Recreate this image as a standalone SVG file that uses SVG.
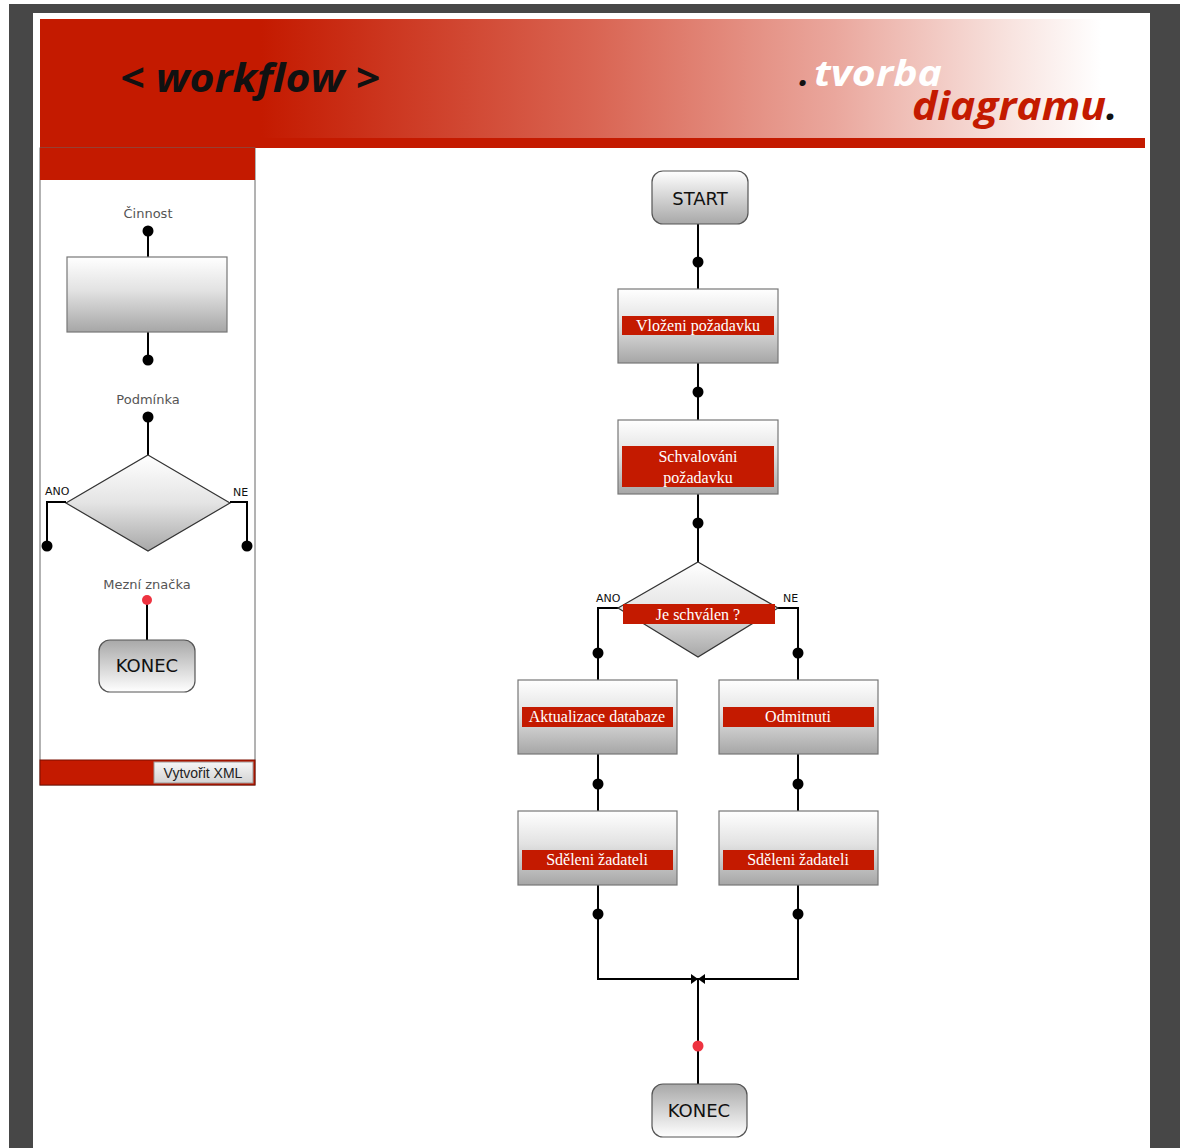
<svg xmlns="http://www.w3.org/2000/svg" width="1180" height="1148" viewBox="0 0 1180 1148">
  <defs>
    <linearGradient id="hdr" gradientUnits="userSpaceOnUse" x1="40" y1="0" x2="1145" y2="0">
      <stop offset="0" stop-color="#c41a00"/>
      <stop offset="0.2" stop-color="#c41a00"/>
      <stop offset="0.5" stop-color="#d96452"/>
      <stop offset="0.72" stop-color="#eaa79d"/>
      <stop offset="0.88" stop-color="#f8e4e0"/>
      <stop offset="0.96" stop-color="#ffffff"/>
    </linearGradient>
    <linearGradient id="box" x1="0" y1="0" x2="0" y2="1">
      <stop offset="0" stop-color="#ffffff"/>
      <stop offset="0.45" stop-color="#e2e2e2"/>
      <stop offset="1" stop-color="#a6a6a6"/>
    </linearGradient>
    <linearGradient id="term" x1="0" y1="0" x2="0" y2="1">
      <stop offset="0" stop-color="#ffffff"/>
      <stop offset="1" stop-color="#a8a8a8"/>
    </linearGradient>
    <linearGradient id="termEnd" x1="0" y1="0" x2="0" y2="1">
      <stop offset="0" stop-color="#a8a8a8"/>
      <stop offset="1" stop-color="#ffffff"/>
    </linearGradient>
    <linearGradient id="dia" x1="0" y1="0" x2="0" y2="1">
      <stop offset="0" stop-color="#ffffff"/>
      <stop offset="0.5" stop-color="#e4e4e4"/>
      <stop offset="1" stop-color="#a8a8a8"/>
    </linearGradient>
    <linearGradient id="btn" x1="0" y1="0" x2="0" y2="1">
      <stop offset="0" stop-color="#f6f6f6"/>
      <stop offset="1" stop-color="#d4d4d4"/>
    </linearGradient>
    <style>
      .line { stroke: #000; stroke-width: 2; fill: none; }
      .dot { fill: #000; }
      .rdot { fill: #ee3340; }
      .box { fill: url(#box); stroke: #777; stroke-width: 1.2; }
      .dia { fill: url(#dia); stroke: #333; stroke-width: 1.2; }
      .band { fill: #c41a00; }
      .bt { font-family: "Liberation Serif", serif; font-size: 16px; fill: #fff; text-anchor: middle; }
      .tt { font-family: "DejaVu Sans", "Liberation Sans", sans-serif; font-size: 18px; fill: #111; text-anchor: middle; }
      .lab { font-family: "DejaVu Sans", "Liberation Sans", sans-serif; font-size: 11px; fill: #111; }
      .pal { font-family: "DejaVu Sans", "Open Sans", sans-serif; font-size: 13px; fill: #555; text-anchor: middle; }
      .logo { font-family: "Open Sans", "DejaVu Sans", sans-serif; font-weight: bold; font-style: italic; }
    </style>
  </defs>

  <!-- page frame -->
  <rect x="0" y="0" width="1180" height="1148" fill="#ffffff"/>
  <rect x="9" y="4" width="1171" height="1144" fill="#474747"/>
  <rect x="33" y="13" width="1117" height="1135" fill="#ffffff"/>

  <!-- header -->
  <rect x="40" y="19" width="1105" height="120" fill="url(#hdr)"/>
  <rect x="40" y="138" width="1105" height="10" fill="#c41a00"/>
  <text class="logo" x="120" y="92" font-size="40" fill="#111" textLength="260" lengthAdjust="spacingAndGlyphs">&lt; workflow &gt;</text>
  <text class="logo" x="799" y="86" font-size="36" fill="#111">.</text>
  <text class="logo" x="814" y="86" font-size="36" fill="#ffffff" textLength="128" lengthAdjust="spacingAndGlyphs">tvorba</text>
  <text class="logo" x="912" y="120" font-size="40" fill="#c41a00" textLength="194" lengthAdjust="spacingAndGlyphs">diagramu</text>
  <text class="logo" x="1106" y="120" font-size="40" fill="#111">.</text>

  <!-- palette sidebar -->
  <g id="palette">
    <rect x="40" y="148" width="215" height="637" fill="#ffffff" stroke="#666" stroke-width="1"/>
    <rect x="40" y="148" width="215" height="32" fill="#c41a00"/>
    <rect x="40" y="760" width="215" height="25" fill="#c41a00" stroke="#7a0f00" stroke-width="1"/>
    <g id="btn-xml">
      <rect x="154" y="762" width="99" height="21" fill="url(#btn)" stroke="#999" stroke-width="1"/>
      <text x="203" y="778" font-family="Liberation Sans, sans-serif" font-size="14" fill="#222" text-anchor="middle">Vytvořit XML</text>
    </g>

    <g id="pal-cinnost">
      <text class="pal" x="148" y="218">Činnost</text>
      <line class="line" x1="148" y1="231" x2="148" y2="257"/>
      <line class="line" x1="148" y1="332" x2="148" y2="360"/>
      <circle class="dot" cx="148" cy="231" r="5.5"/>
      <circle class="dot" cx="148" cy="360" r="5.5"/>
      <rect class="box" x="67" y="257" width="160" height="75"/>
    </g>

    <g id="pal-podminka">
      <text class="pal" x="148" y="404">Podmínka</text>
      <line class="line" x1="148" y1="417" x2="148" y2="455"/>
      <circle class="dot" cx="148" cy="417" r="5.5"/>
      <polygon class="dia" points="148,455 230,503 148,551 66,503"/>
      <polyline class="line" points="66,502 47,502 47,546"/>
      <polyline class="line" points="230,502 247,502 247,546"/>
      <circle class="dot" cx="47" cy="546" r="5.5"/>
      <circle class="dot" cx="247" cy="546" r="5.5"/>
      <text class="lab" x="45" y="495">ANO</text>
      <text class="lab" x="233" y="496">NE</text>
    </g>

    <g id="pal-konec">
      <text class="pal" x="147" y="589">Mezní značka</text>
      <line class="line" x1="147" y1="600" x2="147" y2="640"/>
      <circle class="rdot" cx="147" cy="600" r="5"/>
      <rect x="99" y="640" width="96" height="52" rx="11" fill="url(#termEnd)" stroke="#555" stroke-width="1.2"/>
      <text class="tt" x="147" y="672">KONEC</text>
    </g>
  </g>

  <!-- connectors -->
  <g id="connectors">
    <line class="line" x1="698" y1="224" x2="698" y2="289"/>
    <line class="line" x1="698" y1="363" x2="698" y2="420"/>
    <line class="line" x1="698" y1="494" x2="698" y2="562"/>
    <polyline class="line" points="620,608 598,608 598,680"/>
    <polyline class="line" points="776,608 798,608 798,680"/>
    <line class="line" x1="598" y1="754" x2="598" y2="811"/>
    <line class="line" x1="798" y1="754" x2="798" y2="811"/>
    <polyline class="line" points="598,885 598,979 798,979 798,885"/>
    <line class="line" x1="698" y1="979" x2="698" y2="1084"/>
    <circle class="dot" cx="698" cy="262" r="5.5"/>
    <circle class="dot" cx="698" cy="392" r="5.5"/>
    <circle class="dot" cx="698" cy="523" r="5.5"/>
    <circle class="dot" cx="598" cy="653" r="5.5"/>
    <circle class="dot" cx="798" cy="653" r="5.5"/>
    <circle class="dot" cx="598" cy="784" r="5.5"/>
    <circle class="dot" cx="798" cy="784" r="5.5"/>
    <circle class="dot" cx="598" cy="914" r="5.5"/>
    <circle class="dot" cx="798" cy="914" r="5.5"/>
    <!-- merge point -->
    <polygon points="691,974 698,979 691,984" fill="#000"/>
    <polygon points="705,974 698,979 705,984" fill="#000"/>
    <circle class="rdot" cx="698" cy="1046" r="5.5"/>
  </g>

  <!-- flow nodes -->
  <g id="start">
    <rect x="652" y="171" width="96" height="53" rx="11" fill="url(#term)" stroke="#555" stroke-width="1.2"/>
    <text class="tt" x="700" y="205">START</text>
  </g>

  <g id="vlozeni">
    <rect class="box" x="618" y="289" width="160" height="74"/>
    <rect class="band" x="622" y="316" width="152" height="19"/>
    <text class="bt" x="698" y="331">Vloženi požadavku</text>
  </g>

  <g id="schvalovani">
    <rect class="box" x="618" y="420" width="160" height="74"/>
    <rect class="band" x="622" y="446" width="152" height="41"/>
    <text class="bt" x="698" y="462">Schvalováni</text>
    <text class="bt" x="698" y="483">požadavku</text>
  </g>

  <g id="je-schvalen">
    <polygon class="dia" points="698,562 778,608 698,657 618,608"/>
    <rect class="band" x="623" y="604" width="152" height="20"/>
    <text class="bt" x="698" y="620">Je schválen ?</text>
    <text class="lab" x="596" y="602">ANO</text>
    <text class="lab" x="783" y="602">NE</text>
  </g>

  <g id="aktualizace">
    <rect class="box" x="518" y="680" width="159" height="74"/>
    <rect class="band" x="522" y="707" width="151" height="20"/>
    <text class="bt" x="597" y="722">Aktualizace databaze</text>
  </g>

  <g id="odmitnuti">
    <rect class="box" x="719" y="680" width="159" height="74"/>
    <rect class="band" x="723" y="707" width="151" height="20"/>
    <text class="bt" x="798" y="722">Odmitnuti</text>
  </g>

  <g id="sdeleni-ano">
    <rect class="box" x="518" y="811" width="159" height="74"/>
    <rect class="band" x="522" y="850" width="151" height="20"/>
    <text class="bt" x="597" y="865">Sděleni žadateli</text>
  </g>

  <g id="sdeleni-ne">
    <rect class="box" x="719" y="811" width="159" height="74"/>
    <rect class="band" x="723" y="850" width="151" height="20"/>
    <text class="bt" x="798" y="865">Sděleni žadateli</text>
  </g>

  <g id="konec">
    <rect x="652" y="1084" width="95" height="53" rx="11" fill="url(#termEnd)" stroke="#555" stroke-width="1.2"/>
    <text class="tt" x="699" y="1117">KONEC</text>
  </g>
</svg>
